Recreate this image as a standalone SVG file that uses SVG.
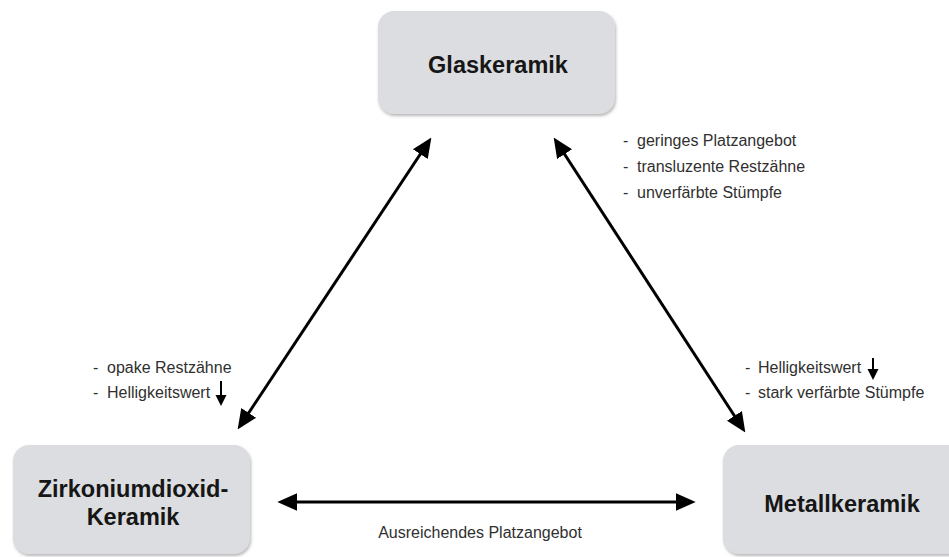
<svg xmlns="http://www.w3.org/2000/svg" width="949" height="557" viewBox="0 0 949 557">
<style>
.box{fill:#dcdde0;filter:url(#sh)}
.title{font-family:"Liberation Sans",Arial,sans-serif;font-weight:bold;font-size:23.5px;fill:#161616;text-anchor:middle}
.note{font-family:"Liberation Sans",Arial,sans-serif;font-size:16px;fill:#303030}
.conn{stroke:#000;stroke-width:3;fill:none;marker-start:url(#ah);marker-end:url(#ah)}
.small{stroke:#000;stroke-width:2;fill:none}
</style>
<defs>
<filter id="sh" x="-10%" y="-10%" width="120%" height="130%">
<feDropShadow dx="1" dy="2" stdDeviation="1.6" flood-color="#888" flood-opacity="0.6"/>
</filter>
<marker id="ah" markerUnits="userSpaceOnUse" markerWidth="20" markerHeight="20" viewBox="0 0 18 18" refX="12" refY="9" orient="auto-start-reverse">
<path d="M0,1 L18,9 L0,17 Z" fill="#000"/>
</marker>
</defs>
<rect width="949" height="557" fill="#fff"/>
<g id="glaskeramik">
<rect class="box" x="378" y="11" width="237" height="103" rx="16"/>
<text class="title" x="498" y="73">Glaskeramik</text>
</g>
<g id="zirkonium">
<rect class="box" x="13" y="445" width="237" height="109" rx="16"/>
<text class="title" x="133" y="497" font-size="24.5">Zirkoniumdioxid-</text>
<text class="title" x="133" y="525" font-size="24.5">Keramik</text>
</g>
<g id="metallkeramik">
<rect class="box" x="723" y="445" width="250" height="109" rx="16"/>
<text class="title" x="842" y="512">Metallkeramik</text>
</g>
<g id="connectors">
<line class="conn" x1="241.3" y1="424" x2="427.7" y2="143"/>
<line class="conn" x1="557.3" y1="143" x2="741.7" y2="427"/>
<line class="conn" x1="284" y1="502" x2="689" y2="502"/>
</g>
<g id="notes-top">
<text class="note" x="623" y="146">-<tspan x="637">geringes Platzangebot</tspan></text>
<text class="note" x="623" y="172">-<tspan x="637">transluzente Restzähne</tspan></text>
<text class="note" x="623" y="198">-<tspan x="637">unverfärbte Stümpfe</tspan></text>
</g>
<g id="notes-left">
<text class="note" x="93" y="373">-<tspan x="107">opake Restzähne</tspan></text>
<text class="note" x="93" y="398">-<tspan x="107">Helligkeitswert</tspan></text>
<line class="small" x1="221" y1="381" x2="221" y2="398"/>
<path d="M215.5,395 L226.5,395 L221,406 Z" fill="#000"/>
</g>
<g id="notes-right">
<text class="note" x="745" y="373">-<tspan x="758">Helligkeitswert</tspan></text>
<text class="note" x="745" y="398">-<tspan x="758">stark verfärbte Stümpfe</tspan></text>
<line class="small" x1="873" y1="358" x2="873" y2="372"/>
<path d="M867.5,369 L878.5,369 L873,380 Z" fill="#000"/>
</g>
<g id="note-bottom">
<text class="note" x="480" y="538" font-size="15.5" text-anchor="middle">Ausreichendes Platzangebot</text>
</g>
</svg>
